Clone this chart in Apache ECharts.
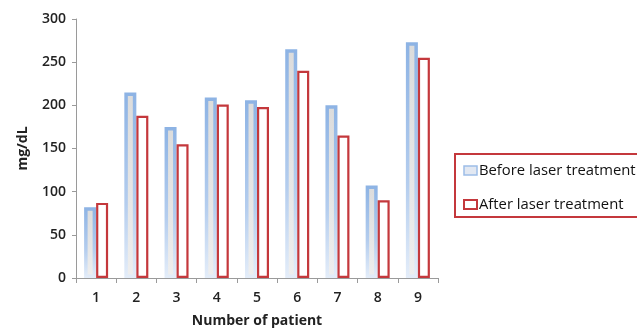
<!DOCTYPE html>
<html>
<head>
<meta charset="utf-8">
<script src="https://cdn.jsdelivr.net/npm/echarts@6/dist/echarts.min.js"></script>
<style>
html,body{margin:0;padding:0;background:#fff;}
#chart{width:637px;height:328px;}
</style>
</head>
<body>
<div id="chart"></div>
<script>
const categories = ['1','2','3','4','5','6','7','8','9'];
const beforeValues = [82, 215, 175, 209, 206, 265, 200, 107, 273];
const afterValues = [87, 188, 155, 201, 198, 240, 165, 90, 255];
const seriesNames = ['Before laser treatment', 'After laser treatment'];
const yTicks = { min: 0, max: 300, interval: 50 };

const FONT = '"Open Sans", "DejaVu Sans", sans-serif';

const blueFill = new echarts.graphic.LinearGradient(0, 0, 0, 1, [
  { offset: 0, color: '#DCDCDC' },
  { offset: 1, color: '#EEEEEE' }
]);
const blueBorder = new echarts.graphic.LinearGradient(0, 0, 0, 1, [
  { offset: 0, color: '#8DB3E4' },
  { offset: 0.6, color: '#B4CDEE' },
  { offset: 1, color: '#E4EDF9' }
]);

const chart = echarts.init(document.getElementById('chart'), null, { renderer: 'canvas' });
chart.setOption({
  animation: false,
  backgroundColor: '#ffffff',
  grid: { left: 76, top: 19, right: 199, bottom: 50, containLabel: false, outerBoundsMode: 'none' },
  xAxis: {
    type: 'category',
    data: categories,
    name: 'Number of patient',
    nameLocation: 'middle',
    nameGap: 36,
    nameTextStyle: { fontFamily: FONT, fontWeight: 'bold', fontSize: 14, color: '#222' },
    axisLine: { lineStyle: { color: '#9A9A9A', width: 1 } },
    axisTick: { show: true, alignWithLabel: false, length: 5, lineStyle: { color: '#9A9A9A' } },
    axisLabel: { fontFamily: FONT, fontSize: 14, fontWeight: 600, color: '#222', margin: 13 }
  },
  yAxis: {
    type: 'value',
    min: yTicks.min,
    max: yTicks.max,
    interval: yTicks.interval,
    name: 'mg/dL',
    nameLocation: 'middle',
    nameGap: 46,
    nameRotate: 90,
    nameTextStyle: { fontFamily: FONT, fontWeight: 'bold', fontSize: 14, color: '#222' },
    axisLine: { show: true, lineStyle: { color: '#9A9A9A', width: 1 } },
    axisTick: { show: true, length: 4, lineStyle: { color: '#9A9A9A' } },
    splitLine: { show: false },
    axisLabel: { fontFamily: FONT, fontSize: 14, fontWeight: 600, color: '#222', margin: 10 }
  },
  legend: {
    orient: 'vertical',
    left: 458,
    top: 158,
    itemWidth: 13,
    itemHeight: 9,
    itemGap: 19,
    textStyle: { fontFamily: FONT, fontSize: 14.8, color: '#111', padding: [0, 0, 0, -3] },
    data: [
      { name: seriesNames[0], icon: 'rect', itemStyle: { color: '#E2E8F2', borderColor: '#9DBDE8', borderWidth: 1.5 } },
      { name: seriesNames[1], icon: 'rect', itemStyle: { color: '#ffffff', borderColor: '#C4383C', borderWidth: 2 } }
    ]
  },
  graphic: [{
    type: 'rect',
    shape: { x: 455, y: 154, width: 200, height: 63 },
    style: { fill: 'none', stroke: '#C4383C', lineWidth: 2 },
    silent: true,
    z: 1
  }],
  series: [
    {
      name: seriesNames[0],
      type: 'bar',
      data: beforeValues,
      barWidth: 12,
      barGap: '0%',
      itemStyle: { color: blueFill, borderColor: blueBorder, borderWidth: 3.5 }
    },
    {
      name: seriesNames[1],
      type: 'bar',
      data: afterValues,
      barWidth: 12,
      barGap: '0%',
      itemStyle: { color: '#ffffff', borderColor: '#C4383C', borderWidth: 2.2 }
    }
  ]
});
</script>
</body>
</html>
